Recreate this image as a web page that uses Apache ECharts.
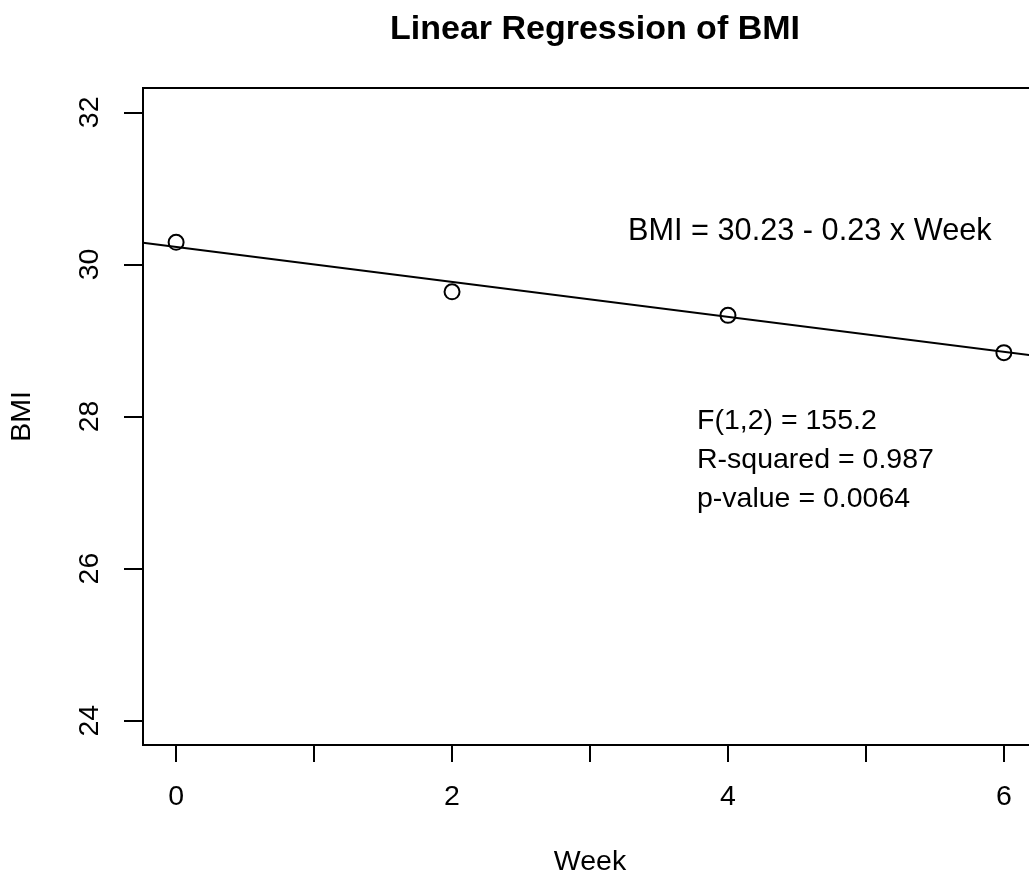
<!DOCTYPE html>
<html>
<head>
<meta charset="utf-8">
<script src="https://cdn.jsdelivr.net/npm/echarts@6/dist/echarts.min.js"></script>
<style>
  html, body { margin: 0; padding: 0; background: #fff; }
  #chart { width: 1029px; height: 878px; }
</style>
</head>
<body>
<div id="chart"></div>
<script>
// observed data
const weeks = [0, 2, 4, 6];
const bmi = [30.29, 29.64, 29.33, 28.84];

// fitted model (as printed on the plot)
const intercept = 30.23;
const slope = -0.23;
const statLines = ['F(1,2) = 155.2', 'R-squared = 0.987', 'p-value = 0.0064'];

const xTicks = [0, 1, 2, 3, 4, 5, 6];
const xLabels = [0, 2, 4, 6];
const yTicks = [24, 26, 28, 30, 32];

const xMin = -0.24, xMax = 6.24;
const yMin = 23.68, yMax = 32.32;

const font = '"Liberation Sans", Arial, Helvetica, sans-serif';

const chart = echarts.init(document.getElementById('chart'), null, { renderer: 'canvas' });

const points = weeks.map((w, i) => [w, bmi[i]]);
const fitLine = [xMin, xMax].map((x) => [x, intercept + slope * x]);

const option = {
    backgroundColor: '#fff',
    animation: false,
    title: {
        text: 'Linear Regression of BMI',
        left: 590,
        top: 8,
        textAlign: 'center',
        textStyle: { fontFamily: font, fontSize: 34, fontWeight: 'bold', color: '#000' }
    },
    grid: {
        left: 143,
        top: 88,
        width: 894,
        height: 657,
        containLabel: false,
        outerBoundsMode: 'none',
        show: true,
        borderColor: '#000',
        borderWidth: 2,
        backgroundColor: 'transparent'
    },
    xAxis: {
        type: 'value',
        min: xMin,
        max: xMax,
        name: 'Week',
        nameLocation: 'middle',
        nameGap: 103,
        nameTextStyle: { fontFamily: font, fontSize: 28.5, color: '#000' },
        axisLine: { show: false, onZero: false },
        splitLine: { show: false },
        axisTick: {
            show: true,
            customValues: xTicks,
            length: 17,
            lineStyle: { color: '#000', width: 2 }
        },
        axisLabel: {
            customValues: xLabels,
            margin: 38,
            fontFamily: font,
            fontSize: 28.5,
            color: '#000'
        }
    },
    yAxis: {
        type: 'value',
        min: yMin,
        max: yMax,
        name: 'BMI',
        nameLocation: 'middle',
        nameGap: 106,
        nameRotate: 90,
        nameTextStyle: { fontFamily: font, fontSize: 28.5, color: '#000' },
        axisLine: { show: false, onZero: false },
        splitLine: { show: false },
        axisTick: {
            show: true,
            customValues: yTicks,
            length: 19,
            lineStyle: { color: '#000', width: 2 }
        },
        axisLabel: {
            customValues: yTicks,
            rotate: 90,
            margin: 38,
            fontFamily: font,
            fontSize: 28.5,
            color: '#000'
        }
    },
    series: [
        {
            type: 'line',
            data: fitLine,
            showSymbol: false,
            symbol: 'none',
            lineStyle: { color: '#000', width: 2 },
            silent: true,
            clip: true
        },
        {
            type: 'scatter',
            data: points,
            symbol: 'circle',
            symbolSize: 15,
            itemStyle: { color: 'transparent', borderColor: '#000', borderWidth: 2, opacity: 1 }
        }
    ],
    graphic: [
        {
            type: 'text',
            left: 628,
            top: 216,
            style: {
                text: 'BMI = 30.23 - 0.23 x Week',
                fontFamily: font,
                fontSize: 30.7,
                fill: '#000'
            }
        },
        {
            type: 'text',
            left: 697,
            top: 402,
            style: {
                text: statLines.join('\n'),
                fontFamily: font,
                fontSize: 28.5,
                lineHeight: 39,
                fill: '#000'
            }
        }
    ]
};

chart.setOption(option);
window.addEventListener('resize', () => chart.resize());
</script>
</body>
</html>
